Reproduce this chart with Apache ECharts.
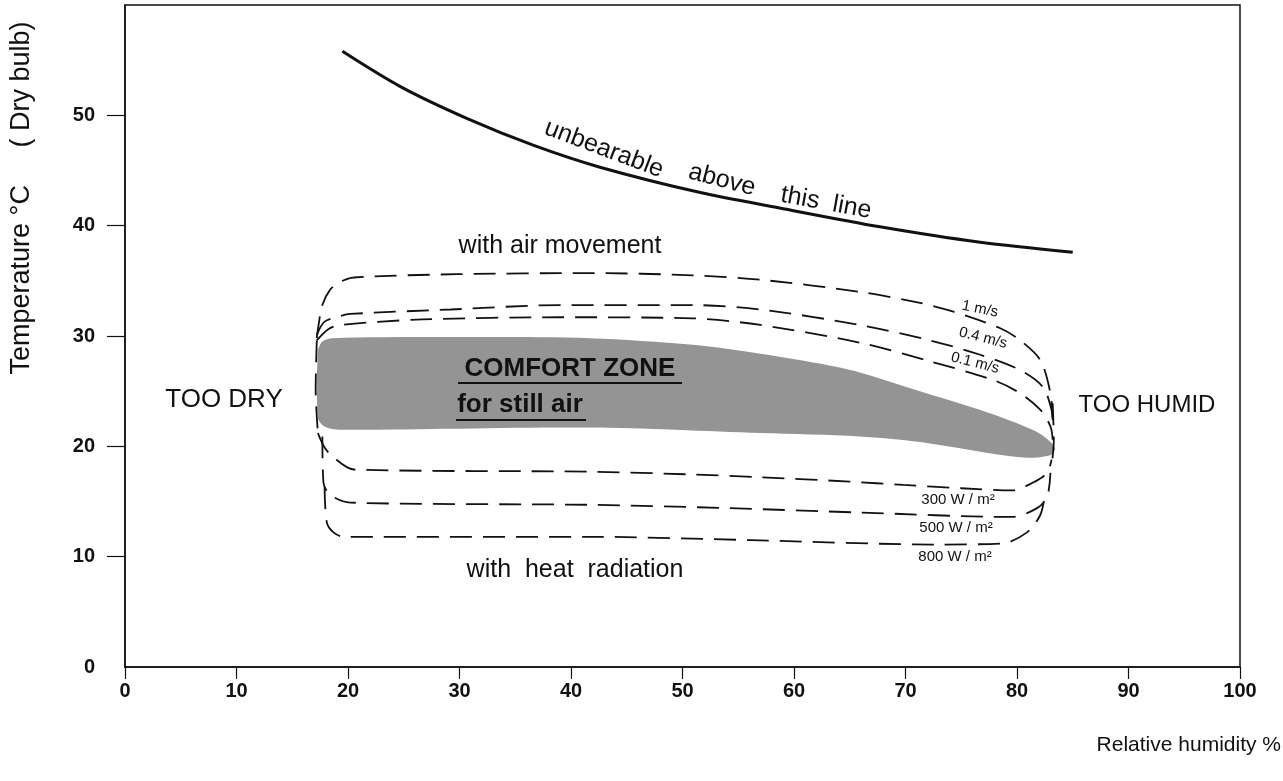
<!DOCTYPE html>
<html>
<head>
<meta charset="utf-8">
<script src="https://cdn.jsdelivr.net/npm/echarts@6/dist/echarts.min.js"></script>
<style>
html,body{margin:0;padding:0;background:#fff;}
#chart{width:1283px;height:781px;}
</style>
</head>
<body>
<div id="chart"></div>
<script>
// ---- data (relative humidity %, temperature °C) ----
const xTicks = [0,10,20,30,40,50,60,70,80,90,100];
const yTicks = [0,10,20,30,40,50];

const unbearable = [[19.5,55.8],[24.7,52.6],[30.7,49.7],[36.6,47.3],[42.6,45.3],[51.6,43.0],[58.7,41.6],[67.7,39.9],[76.7,38.5],[85.0,37.6]];

const air1 = [[17.2,29.8],[17.3,30.6],[17.7,32.8],[18.4,34.2],[19.3,34.9],[20.5,35.3],[29.8,35.6],[41.7,35.7],[50.9,35.5],[57.0,35.1],[65.9,34.0],[71.3,33.0],[74.3,32.2],[78.5,30.7],[80.3,29.6],[82.1,27.8],[83.0,24.8],[83.2,22.4]];
const air04 = [[17.2,30.1],[17.9,31.3],[19.3,31.8],[20.2,32.0],[29.2,32.4],[39.0,32.8],[50.9,32.8],[57.0,32.4],[65.9,31.0],[72.2,29.6],[76.7,28.3],[80.3,26.9],[82.3,25.4],[83.1,23.3],[83.2,21.9]];
const air01 = [[17.2,29.6],[18.2,30.6],[19.3,31.0],[26.7,31.5],[39.0,31.7],[50.9,31.6],[57.0,31.0],[65.9,29.4],[72.2,27.7],[77.9,26.0],[80.3,24.8],[82.1,23.3],[83.0,21.8],[83.2,20.6]];

const leftEdge = [[17.2,29.6],[17.1,25.1],[17.3,21.2]];
const rightEdge = [[83.2,23.9],[83.3,20.6],[83.1,18.1]];

const heat300 = [[17.3,21.2],[17.9,19.9],[18.7,19.0],[20.5,17.9],[41.7,17.7],[50.9,17.45],[57.0,17.2],[65.0,16.8],[69.8,16.5],[75.0,16.2],[79.6,16.0],[81.4,16.7],[82.7,17.6],[83.1,18.8]];
const heat500 = [[17.7,20.9],[17.8,16.7],[18.4,15.6],[20.2,14.9],[41.7,14.7],[54.0,14.4],[65.9,14.0],[79.6,13.6],[81.8,14.4],[82.7,15.4],[83.0,17.6]];
const heat800 = [[17.9,16.3],[18.1,13.1],[18.7,12.2],[19.6,11.8],[41.7,11.8],[56.1,11.5],[72.8,11.1],[78.7,11.2],[80.9,12.2],[82.1,13.8],[82.5,15.6]];

const comfortZone = [[17.3,28.6],[17.7,29.5],[18.6,29.8],[29.8,29.9],[41.7,29.8],[50.9,29.2],[57.0,28.4],[62.3,27.5],[65.9,26.7],[71.3,25.0],[77.3,23.1],[81.8,21.3],[83.4,19.9],[83.0,19.2],[80.3,19.0],[71.3,20.4],[65.9,20.9],[57.0,21.2],[41.7,21.7],[19.3,21.5],[17.9,21.8],[17.3,22.6]];

// ---- chart ----
const FONT = '"Liberation Sans", Arial, Helvetica, sans-serif';
const chart = echarts.init(document.getElementById('chart'));

function dashed(name, data) {
  return {
    name: name, type: 'line', data: data, symbol: 'none', smooth: 0.3,
    silent: true, z: 3,
    lineStyle: { color: '#111', width: 1.8, type: [22, 11] }
  };
}

function txt(text, x, y, size, opts) {
  opts = opts || {};
  return {
    type: 'text', x: x, y: y, rotation: opts.rot || 0, z: 100, silent: true,
    style: {
      text: text, fill: '#111',
      font: (opts.weight || 'normal') + ' ' + size + 'px ' + FONT,
      textAlign: opts.align || 'center', textVerticalAlign: 'middle',
      align: opts.align || 'center', verticalAlign: 'middle'
    }
  };
}

const option = {
  animation: false,
  backgroundColor: '#fff',
  grid: { left: 125, right: 43, top: 5, bottom: 114, show: true, borderColor: '#111', borderWidth: 1.5, backgroundColor: 'transparent' },
  xAxis: {
    type: 'value', min: 0, max: 100, interval: 10,
    axisLine: { show: true, onZero: false, lineStyle: { color: '#111', width: 1.5 } },
    axisTick: { show: true, length: 12, lineStyle: { color: '#111', width: 1.2 } },
    axisLabel: { margin: 14, color: '#111', fontSize: 20, fontWeight: 'bold', fontFamily: FONT, customValues: xTicks },
    splitLine: { show: false }
  },
  yAxis: {
    type: 'value', min: 0, max: 60, interval: 10,
    axisLine: { show: true, onZero: false, lineStyle: { color: '#111', width: 1.5 } },
    axisTick: { show: true, length: 18, customValues: yTicks.slice(1), lineStyle: { color: '#111', width: 1.2 } },
    axisLabel: { margin: 30, color: '#111', fontSize: 20, fontWeight: 'bold', fontFamily: FONT, customValues: yTicks },
    splitLine: { show: false }
  },
  series: [
    {
      name: 'Comfort zone', type: 'custom', coordinateSystem: 'cartesian2d', silent: true, z: 1,
      data: [[50, 25]],
      renderItem: function (params, api) {
        return {
          type: 'polygon',
          shape: { points: comfortZone.map(function (p) { return api.coord(p); }), smooth: 0.3 },
          style: { fill: '#949494', stroke: null }
        };
      }
    },
    {
      name: 'Unbearable', type: 'line', data: unbearable, symbol: 'none', smooth: 0.3, silent: true, z: 4,
      lineStyle: { color: '#111', width: 3 }
    },
    dashed('1 m/s', air1),
    dashed('0.4 m/s', air04),
    dashed('0.1 m/s', air01),
    dashed('left edge', leftEdge),
    dashed('right edge', rightEdge),
    dashed('300 W/m2', heat300),
    dashed('500 W/m2', heat500),
    dashed('800 W/m2', heat800)
  ],
  graphic: [
    txt('Temperature °C     ( Dry bulb)', 22, 198, 27, { rot: Math.PI / 2 }),
    txt('Relative humidity %', 1281, 745, 21, { align: 'right' }),
    txt('TOO DRY', 224, 400, 26),
    txt('TOO HUMID', 1147, 405, 24),
    txt('with air movement', 560, 246, 25),
    txt('with  heat  radiation', 575, 570, 25),
    txt('unbearable', 604, 149, 25, { rot: -0.36 }),
    txt('above', 722, 180, 25, { rot: -0.26 }),
    txt('this  line', 826, 203, 25, { rot: -0.18 }),
    txt('1 m/s', 980, 309, 15, { rot: -0.2 }),
    txt('0.4 m/s', 983, 338, 15, { rot: -0.25 }),
    txt('0.1 m/s', 975, 363, 15, { rot: -0.25 }),
    txt('300 W / m²', 958, 500, 15),
    txt('500 W / m²', 956, 528, 15),
    txt('800 W / m²', 955, 557, 15),
    txt('COMFORT ZONE', 570, 369, 26, { weight: 'bold' }),
    txt('for still air', 520, 405, 26, { weight: 'bold' }),
    { type: 'line', z: 100, silent: true, shape: { x1: 458, y1: 383, x2: 682, y2: 383 }, style: { stroke: '#111', lineWidth: 2 } },
    { type: 'line', z: 100, silent: true, shape: { x1: 456, y1: 420, x2: 586, y2: 420 }, style: { stroke: '#111', lineWidth: 2 } }
  ]
};
chart.setOption(option);
</script>
</body>
</html>
